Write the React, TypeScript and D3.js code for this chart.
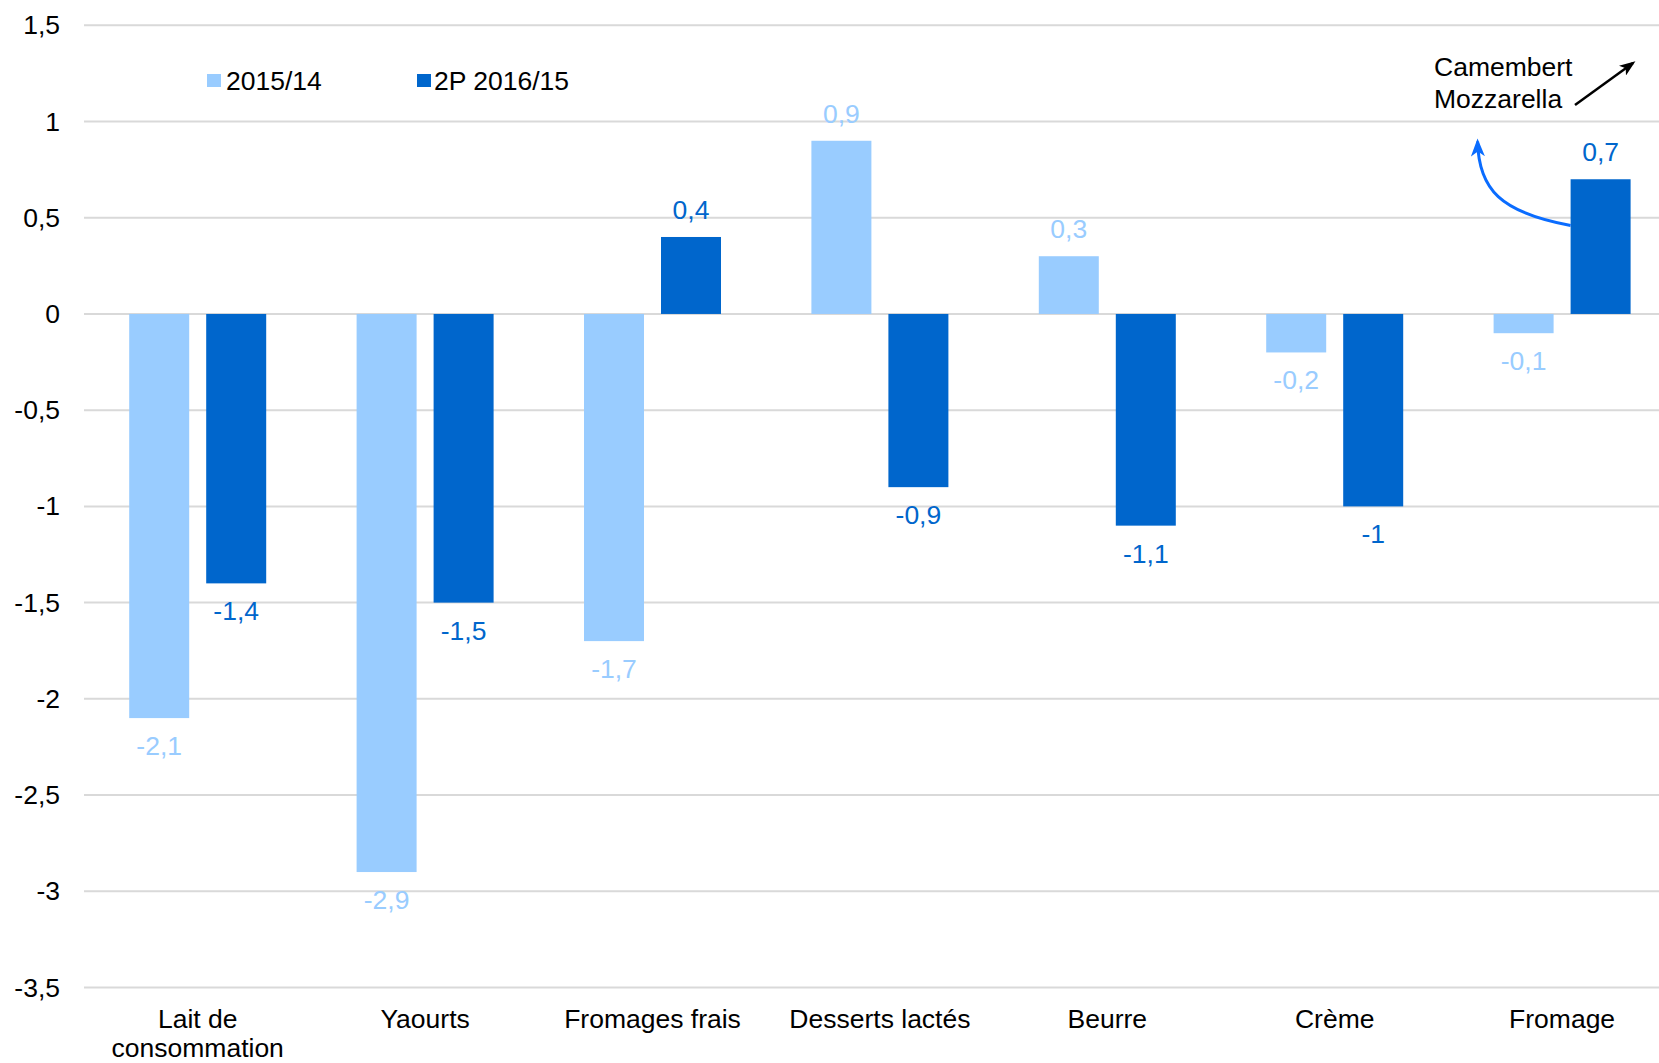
import React from "react";
import * as d3 from "d3";

const categories = ["Lait de consommation", "Yaourts", "Fromages frais", "Desserts lactés", "Beurre", "Crème", "Fromage"];
const categoryLines = [["Lait de", "consommation"], ["Yaourts"], ["Fromages frais"], ["Desserts lactés"], ["Beurre"], ["Crème"], ["Fromage"]];
const seriesNames = ["2015/14", "2P 2016/15"];
const values2015 = [-2.1, -2.9, -1.7, 0.9, 0.3, -0.2, -0.1];
const values2016 = [-1.4, -1.5, 0.4, -0.9, -1.1, -1, 0.7];
const yTicks = [1.5, 1, 0.5, 0, -0.5, -1, -1.5, -2, -2.5, -3, -3.5];
const annotationLines = ["Camembert", "Mozzarella"];

const W = 1659;
const H = 1063;
const COLORS = ["#99CCFF", "#0066CC"];
const FONT = "'Liberation Sans', Arial, sans-serif";
const FS = 26.5;
const fmt = (v: number) => String(v).replace(".", ",");

export default function App() {
  const y = d3.scaleLinear().domain([-3.5, 1.5]).range([987.5, 25.3]);
  const x0 = d3.scaleBand<string>().domain(categories).range([84, 84 + 7 * 227.4]).padding(0);
  const x1 = d3.scaleBand<string>().domain(seriesNames).range([45.2, 182.2]).paddingInner(17 / 77).paddingOuter(0);
  const series = [values2015, values2016];
  const gridX1 = 84;
  const gridX2 = W;

  const curve = d3.path();
  const sx = (x0("Fromage") as number) + (x1(seriesNames[1]) as number);
  const sy = y(0.46);
  curve.moveTo(sx, sy);
  curve.bezierCurveTo(sx - 70, sy - 13, sx - 92, sy - 36, sx - 93, sy - 84);

  return (
    <svg width={W} height={H} style={{ position: "absolute", left: 0, top: 0, background: "#fff" }} fontFamily={FONT}>
      <defs>
        <marker id="blueHead" viewBox="0 0 18 14" refX="15" refY="7" markerWidth="18" markerHeight="14" orient="auto" markerUnits="userSpaceOnUse">
          <path d="M0,0 L18,7 L0,14 L5,7 Z" fill="#0A6CFF" />
        </marker>
        <marker id="blackHead" viewBox="0 0 16 12" refX="13" refY="6" markerWidth="16" markerHeight="12" orient="auto" markerUnits="userSpaceOnUse">
          <path d="M0,0 L16,6 L0,12 L4,6 Z" fill="#000" />
        </marker>
      </defs>
      {yTicks.map((t) => (
        <g key={t}>
          <line x1={gridX1} x2={gridX2} y1={y(t)} y2={y(t)} stroke="#D9D9D9" strokeWidth={2} />
          <text x={60} y={y(t) + 9} textAnchor="end" fontSize={FS} fill="#000">{fmt(t)}</text>
        </g>
      ))}
      {categories.map((c, i) => (
        <g key={c} transform={`translate(${x0(c)},0)`}>
          {series.map((vals, s) => {
            const v = vals[i];
            const bx = x1(seriesNames[s]) as number;
            const bw = x1.bandwidth();
            const top = y(Math.max(0, v));
            const bot = y(Math.min(0, v));
            const ly = v >= 0 ? top - 18 : bot + 37;
            return (
              <g key={s}>
                <rect x={bx} y={top} width={bw} height={bot - top} fill={COLORS[s]} />
                <text x={bx + bw / 2} y={ly} textAnchor="middle" fontSize={FS} fill={COLORS[s]}>{fmt(v)}</text>
              </g>
            );
          })}
          {categoryLines[i].map((ln, k) => (
            <text key={k} x={x0.bandwidth() / 2} y={1028 + k * 29} textAnchor="middle" fontSize={FS} fill="#000">{ln}</text>
          ))}
        </g>
      ))}
      {/* legend */}
      <rect x={207} y={74} width={14} height={13} fill={COLORS[0]} />
      <text x={226} y={90} fontSize={FS} fill="#000">{seriesNames[0]}</text>
      <rect x={417} y={74} width={14} height={13} fill={COLORS[1]} />
      <text x={434} y={90} fontSize={FS} fill="#000">{seriesNames[1]}</text>
      {/* annotation */}
      {annotationLines.map((ln, k) => (
        <text key={ln} x={1434} y={76 + k * 31.5} fontSize={FS} fill="#000">{ln}</text>
      ))}
      <line x1={1575} y1={105} x2={1633} y2={63} stroke="#000" strokeWidth={2.5} markerEnd="url(#blackHead)" />
      <path d={curve.toString()} fill="none" stroke="#0A6CFF" strokeWidth={3} markerEnd="url(#blueHead)" />
    </svg>
  );
}
